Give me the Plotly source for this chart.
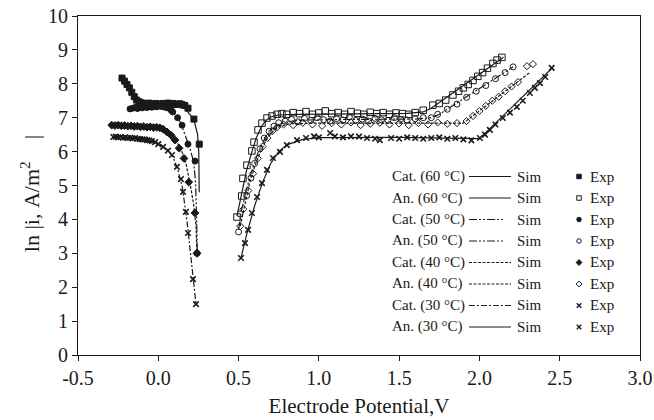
import plotly.graph_objects as go

# ---------------- data ----------------
# Cathodic 60 °C
cat60_exp_v = [-0.226, -0.21, -0.195, -0.18, -0.165, -0.15, -0.135, -0.12, -0.105, -0.09, -0.075, -0.06, -0.045,
               -0.03, -0.015, 0.0, 0.015, 0.03, 0.045, 0.06, 0.075, 0.09, 0.105, 0.12, 0.135, 0.15, 0.165, 0.185,
               0.222, 0.255]
cat60_exp_i = [8.17, 8.08, 7.98, 7.88, 7.75, 7.62, 7.52, 7.47, 7.44, 7.42, 7.40, 7.43, 7.41, 7.39, 7.42, 7.40, 7.38,
               7.42, 7.41, 7.43, 7.40, 7.42, 7.39, 7.40, 7.41, 7.38, 7.36, 7.28, 6.96, 6.22]
cat60_sim_v = [-0.226, -0.19, -0.15, -0.12, -0.08, 0.0, 0.08, 0.13, 0.17, 0.20, 0.222, 0.245, 0.252, 0.255]
cat60_sim_i = [8.17, 7.95, 7.62, 7.48, 7.43, 7.42, 7.41, 7.38, 7.25, 7.08, 6.93, 6.5, 6.0, 4.8]

# Cathodic 50 °C
cat50_exp_v = [-0.176, -0.16, -0.145, -0.13, -0.115, -0.10, -0.085, -0.07, -0.055, -0.04, -0.025, -0.01, 0.005,
               0.02, 0.035, 0.05, 0.065, 0.08, 0.09, 0.12, 0.148, 0.185, 0.229, 0.241]
cat50_exp_i = [7.26, 7.28, 7.30, 7.27, 7.31, 7.29, 7.32, 7.30, 7.33, 7.31, 7.34, 7.32, 7.35, 7.33, 7.32, 7.30,
               7.28, 7.22, 7.17, 7.0, 6.78, 6.22, 5.72, 3.0]
cat50_sim_v = [-0.176, -0.10, 0.0, 0.06, 0.10, 0.14, 0.17, 0.20, 0.22, 0.232, 0.238, 0.243]
cat50_sim_i = [7.27, 7.30, 7.33, 7.30, 7.15, 6.85, 6.45, 6.05, 5.7, 5.1, 4.2, 3.0]

# Cathodic 40 °C
cat40_exp_v = [-0.29, -0.27, -0.25, -0.23, -0.21, -0.19, -0.17, -0.15, -0.13, -0.11, -0.09, -0.07, -0.05, -0.03,
               -0.01, 0.01, 0.03, 0.054, 0.08, 0.104, 0.13, 0.16, 0.19, 0.228, 0.241]
cat40_exp_i = [6.78, 6.77, 6.78, 6.76, 6.77, 6.75, 6.76, 6.74, 6.75, 6.73, 6.74, 6.72, 6.73, 6.71, 6.72, 6.70,
               6.66, 6.58, 6.48, 6.34, 6.1, 5.8, 5.1, 4.19, 3.0]
cat40_sim_v = [-0.29, -0.1, 0.0, 0.05, 0.10, 0.14, 0.17, 0.20, 0.22, 0.235, 0.241]
cat40_sim_i = [6.78, 6.74, 6.71, 6.6, 6.38, 6.1, 5.7, 5.0, 4.45, 3.8, 3.0]

# Cathodic 30 °C
cat30_exp_v = [-0.28, -0.265, -0.25, -0.235, -0.22, -0.205, -0.19, -0.175, -0.16, -0.145, -0.13, -0.115, -0.10,
               -0.085, -0.07, -0.055, -0.04, -0.02, 0.0, 0.03, 0.06, 0.085, 0.116, 0.141, 0.154, 0.172, 0.185,
               0.216, 0.235]
cat30_exp_i = [6.43, 6.44, 6.42, 6.43, 6.41, 6.42, 6.40, 6.41, 6.39, 6.40, 6.38, 6.37, 6.36, 6.36, 6.34, 6.33,
               6.31, 6.28, 6.22, 6.14, 6.03, 5.9, 5.55, 5.19, 4.81, 4.22, 3.6, 2.24, 1.5]
cat30_sim_v = [-0.28, -0.15, -0.05, 0.0, 0.05, 0.09, 0.12, 0.15, 0.18, 0.21, 0.235]
cat30_sim_i = [6.43, 6.40, 6.33, 6.24, 6.08, 5.85, 5.5, 4.95, 3.9, 2.5, 1.5]

# Anodic 60 °C
an60_exp_v = [0.49, 0.52, 0.527, 0.552, 0.583, 0.596, 0.621, 0.646, 0.677, 0.708, 0.74, 0.77, 0.80, 0.84, 0.88,
              0.92, 0.96, 1.00, 1.04, 1.08, 1.12, 1.16, 1.20, 1.24, 1.28, 1.32, 1.36, 1.40, 1.44, 1.48, 1.52, 1.56,
              1.60, 1.65, 1.71, 1.75, 1.79, 1.835, 1.87, 1.90, 1.93, 1.96, 1.99, 2.02, 2.05, 2.084, 2.11, 2.14]
an60_exp_i = [4.07, 4.69, 5.21, 5.6, 6.02, 6.28, 6.64, 6.84, 6.99, 7.05, 7.10, 7.12, 7.10, 7.15, 7.12, 7.18, 7.10,
              7.14, 7.20, 7.12, 7.15, 7.10, 7.18, 7.13, 7.10, 7.16, 7.12, 7.15, 7.10, 7.14, 7.12, 7.10, 7.15, 7.22,
              7.37, 7.42, 7.52, 7.67, 7.78, 7.88, 7.98, 8.10, 8.22, 8.33, 8.46, 8.60, 8.70, 8.78]
an60_sim_v = [0.49, 0.51, 0.53, 0.55, 0.58, 0.61, 0.64, 0.67, 0.70, 0.75, 0.85, 1.0, 1.3, 1.55, 1.65, 1.70, 2.15]
an60_sim_i = [4.1, 4.55, 5.0, 5.45, 5.95, 6.4, 6.72, 6.92, 7.02, 7.08, 7.10, 7.11, 7.12, 7.13, 7.17, 7.28, 8.78]

# Anodic 50 °C
an50_exp_v = [0.50, 0.509, 0.55, 0.577, 0.60, 0.633, 0.66, 0.69, 0.72, 0.75, 0.79, 0.83, 0.87, 0.91, 0.95, 0.99,
              1.03, 1.07, 1.11, 1.15, 1.19, 1.23, 1.27, 1.31, 1.35, 1.39, 1.43, 1.47, 1.51, 1.55, 1.60, 1.65, 1.70,
              1.74, 1.80, 1.86, 1.92, 1.98, 2.04, 2.10, 2.16, 2.21]
an50_exp_i = [3.63, 4.16, 4.70, 5.22, 5.65, 6.08, 6.40, 6.60, 6.75, 6.85, 6.90, 6.95, 6.88, 6.98, 6.92, 7.0, 6.94,
              6.9, 6.97, 6.93, 7.02, 6.92, 6.96, 6.9, 6.98, 6.94, 6.92, 7.0, 6.95, 6.93, 6.97, 7.0, 7.0, 7.1, 7.25,
              7.4, 7.6, 7.78, 7.95, 8.15, 8.33, 8.5]
an50_sim_v = [0.50, 0.52, 0.55, 0.58, 0.62, 0.66, 0.70, 0.75, 0.80, 0.90, 1.2, 1.6, 1.70, 1.75, 2.21]
an50_sim_i = [3.7, 4.3, 4.9, 5.4, 5.95, 6.35, 6.62, 6.8, 6.88, 6.93, 6.95, 6.96, 7.0, 7.1, 8.5]

# Anodic 40 °C
an40_exp_v = [0.51, 0.53, 0.56, 0.59, 0.62, 0.65, 0.68, 0.71, 0.74, 0.78, 0.84, 0.90, 0.96, 1.02, 1.08, 1.14, 1.20,
              1.26, 1.32, 1.38, 1.44, 1.50, 1.56, 1.62, 1.68, 1.74, 1.80, 1.86, 1.92, 1.96, 2.0, 2.04, 2.08, 2.12,
              2.16, 2.2, 2.24, 2.296, 2.333]
an40_exp_i = [3.8, 4.3, 4.85, 5.35, 5.8, 6.15, 6.4, 6.6, 6.72, 6.8, 6.78, 6.85, 6.8, 6.76, 6.84, 6.8, 6.86, 6.78,
              6.82, 6.85, 6.8, 6.83, 6.78, 6.84, 6.8, 6.86, 6.82, 6.84, 6.9, 7.05, 7.2, 7.35, 7.5, 7.62, 7.78, 7.92,
              8.05, 8.52, 8.58]
an40_sim_v = [0.51, 0.54, 0.57, 0.60, 0.64, 0.68, 0.72, 0.76, 0.82, 1.0, 1.5, 1.9, 2.31]
an40_sim_i = [3.8, 4.5, 5.1, 5.55, 6.05, 6.4, 6.62, 6.75, 6.82, 6.84, 6.84, 6.84, 8.32]

# Anodic 30 °C
an30_exp_v = [0.515, 0.54, 0.559, 0.583, 0.615, 0.646, 0.677, 0.714, 0.758, 0.801, 0.864, 0.92, 0.97, 1.0, 1.07,
              1.1, 1.15, 1.2, 1.25, 1.3, 1.35, 1.38, 1.45, 1.5, 1.55, 1.6, 1.65, 1.7, 1.75, 1.8, 1.85, 1.9, 1.95,
              2.003, 2.035, 2.065, 2.1, 2.146, 2.19, 2.233, 2.27, 2.314, 2.345, 2.377, 2.41, 2.45]
an30_exp_i = [2.86, 3.3, 3.69, 4.19, 4.66, 5.07, 5.46, 5.81, 5.99, 6.19, 6.34, 6.4, 6.45, 6.42, 6.55, 6.45, 6.42,
              6.45, 6.44, 6.4, 6.38, 6.34, 6.4, 6.38, 6.42, 6.4, 6.38, 6.4, 6.42, 6.38, 6.4, 6.36, 6.33, 6.4, 6.5,
              6.64, 6.8, 6.99, 7.15, 7.32, 7.5, 7.73, 7.88, 8.02, 8.2, 8.47]
an30_sim_v = [0.515, 0.55, 0.60, 0.65, 0.70, 0.75, 0.80, 0.90, 1.0, 1.2, 1.5, 1.8, 2.0, 2.45]
an30_sim_i = [2.86, 3.55, 4.4, 5.1, 5.65, 6.0, 6.2, 6.36, 6.41, 6.42, 6.42, 6.4, 6.38, 8.45]

legend_labels = ["Cat. (60 °C)", "An. (60 °C)", "Cat. (50 °C)", "An. (50 °C)",
                 "Cat. (40 °C)", "An. (40 °C)", "Cat. (30 °C)", "An. (30 °C)"]
x_ticks = [-0.5, 0.0, 0.5, 1.0, 1.5, 2.0, 2.5, 3.0]
x_tick_text = ["-0.5", "0.0", "0.5", "1.0", "1.5", "2.0", "2.5", "3.0"]
y_ticks = [0, 1, 2, 3, 4, 5, 6, 7, 8, 9, 10]

# ---------------- styles ----------------
INK = "#1a1a1a"
FONT = "Liberation Serif, Times New Roman, serif"
DASH_5050 = "8px,2px,2px,2px,2px,2px"
DASH_40 = "3px,1.5px"
DASH_30 = "6px,2px,2px,2px"

series = [
    # sim_v, sim_i, exp_v, exp_i, dash, symbol, msize
    (cat60_sim_v, cat60_sim_i, cat60_exp_v, cat60_exp_i, "solid", "square", 6),
    (an60_sim_v, an60_sim_i, an60_exp_v, an60_exp_i, "solid", "square-open", 6.5),
    (cat50_sim_v, cat50_sim_i, cat50_exp_v, cat50_exp_i, DASH_5050, "circle", 6),
    (an50_sim_v, an50_sim_i, an50_exp_v, an50_exp_i, DASH_5050, "circle-open", 6),
    (cat40_sim_v, cat40_sim_i, cat40_exp_v, cat40_exp_i, DASH_40, "diamond", 6),
    (an40_sim_v, an40_sim_i, an40_exp_v, an40_exp_i, DASH_40, "diamond-open", 5.5),
    (cat30_sim_v, cat30_sim_i, cat30_exp_v, cat30_exp_i, DASH_30, "x-thin", 5.5),
    (an30_sim_v, an30_sim_i, an30_exp_v, an30_exp_i, "solid", "x-thin", 5.5),
]

fig = go.Figure()
for sv, si, ev, ei, dash, sym, ms in series:
    fig.add_trace(go.Scatter(x=sv, y=si, mode="lines", line=dict(color=INK, width=1.2, dash=dash),
                             showlegend=False, hoverinfo="skip"))
for sv, si, ev, ei, dash, sym, ms in series:
    lw = 1.6 if sym == "x-thin" else 1
    fig.add_trace(go.Scatter(x=ev, y=ei, mode="markers",
                             marker=dict(symbol=sym, size=ms, color=INK, line=dict(color=INK, width=lw)),
                             showlegend=False, hoverinfo="skip"))

# ---------------- custom legend (overlay axes in [0,1]) ----------------
row_y = [0.5265 - k * 0.0634 for k in range(8)]
line_x0, line_x1 = 0.6957, 0.7705
for k, (lab, s) in enumerate(zip(legend_labels, series)):
    y = row_y[k]
    dash, sym = s[4], s[5]
    x1 = 0.756 if dash == DASH_5050 else line_x1
    lw = 1.4 if sym == "x-thin" else 1
    fig.add_trace(go.Scatter(x=[line_x0, x1], y=[y, y], xaxis="x2", yaxis="y2", mode="lines",
                             line=dict(color=INK, width=1.1, dash=dash), showlegend=False, hoverinfo="skip"))
    fig.add_trace(go.Scatter(x=[0.8915], y=[y], xaxis="x2", yaxis="y2", mode="markers",
                             marker=dict(symbol=sym, size=4.5, color=INK, line=dict(color=INK, width=lw)),
                             showlegend=False, hoverinfo="skip"))
    fig.add_annotation(x=0.555, y=y, xref="x2", yref="y2", text=lab, showarrow=False,
                       xanchor="left", yanchor="middle", font=dict(family=FONT, size=15, color=INK))
    fig.add_annotation(x=0.777, y=y, xref="x2", yref="y2", text="Sim", showarrow=False,
                       xanchor="left", yanchor="middle", font=dict(family=FONT, size=15, color=INK))
    fig.add_annotation(x=0.9075, y=y, xref="x2", yref="y2", text="Exp", showarrow=False,
                       xanchor="left", yanchor="middle", font=dict(family=FONT, size=15, color=INK))

# y-axis title as a rotated annotation (placed slightly below the plot centre, as in the reference)
NB = "\u00a0"
y_title = f"ln{NB}|i,{NB}A/m<sup>2</sup>{NB * 4}|"
fig.add_annotation(x=-0.085, y=0.475, xref="paper", yref="paper", text=y_title, textangle=-90,
                   showarrow=False, xanchor="center", yanchor="middle",
                   font=dict(family=FONT, size=22, color=INK))

axis_common = dict(showgrid=False, zeroline=False, showline=True, linecolor=INK, linewidth=1,
                   mirror=True, ticks="outside", ticklen=5, tickcolor=INK, tickwidth=1, automargin=False,
                   ticklabeloverflow="allow", tickfont=dict(family=FONT, size=20, color=INK))

fig.update_layout(
    width=654, height=420,
    margin=dict(l=78, r=14, t=16, b=65, autoexpand=False),
    paper_bgcolor="white", plot_bgcolor="white",
    font=dict(family=FONT, color=INK),
    hovermode=False,
    xaxis=dict(range=[-0.5, 3.0], tickvals=x_ticks, ticktext=x_tick_text,
               title=dict(text="Electrode Potential,V", font=dict(family=FONT, size=21, color=INK), standoff=10),
               **axis_common),
    yaxis=dict(range=[0, 10], tickvals=y_ticks, **axis_common),
    xaxis2=dict(overlaying="x", range=[0, 1], visible=False, anchor="y2"),
    yaxis2=dict(overlaying="y", range=[0, 1], visible=False, anchor="x2"),
)

# remove the browser's default 8px body margin so the figure fills the window exactly
fig.write_html("out.html", config={"displayModeBar": False, "staticPlot": True},
               post_script="document.body.style.margin='0';document.body.style.overflow='hidden';")
